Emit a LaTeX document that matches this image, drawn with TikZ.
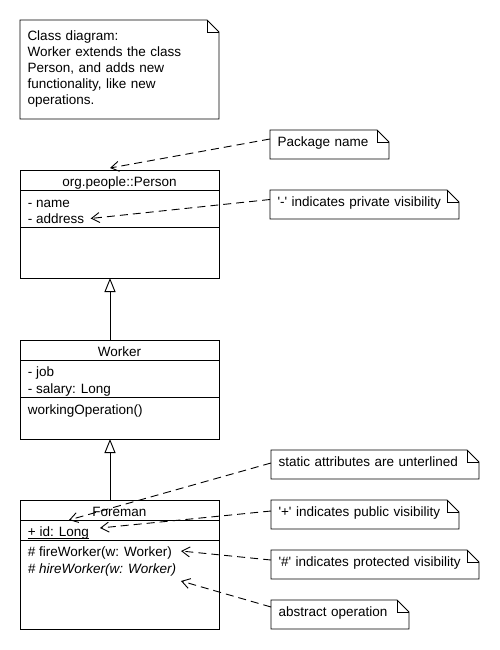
\documentclass[tikz,border=0pt]{standalone}
\usepackage{fontspec}
\setmainfont{Liberation Sans}[Ligatures=TeXOff]
\usetikzlibrary{arrows.meta}
\newcommand\notefold[1]{%
  \draw (#1.north west) -- ([xshift=-12pt]#1.north east) -- ([yshift=-12pt]#1.north east)
        -- (#1.south east) -- (#1.south west) -- cycle;
  \draw ([xshift=-12pt]#1.north east) -- ([xshift=-12pt,yshift=-12pt]#1.north east)
        -- ([yshift=-12pt]#1.north east);}
\begin{document}
\begin{tikzpicture}[x=1pt,y=-1pt, line width=0.9pt,
  font=\fontsize{13.5}{16}\selectfont,
  lbl/.style={inner sep=0pt, anchor=base west},
  ctr/.style={inner sep=0pt, anchor=base},
  part/.style={draw, inner sep=0pt, outer sep=0pt, minimum width=199pt, anchor=north west},
  note/.style={inner xsep=7.5pt, inner ysep=6.5pt, outer sep=0pt, anchor=north west,
               text height=10pt, text depth=6pt, align=left, text width=#1},
  ann/.style={dash pattern=on 8pt off 5pt, -{Straight Barb[length=8pt,width=10pt]}},
  gen/.style={-{Triangle[open,length=14pt,width=11pt]}}
]
\fill[white] (0,0) rectangle (500,650);
\useasboundingbox (0,0) rectangle (500,650);

% main note
\node[inner xsep=7.5pt, inner ysep=0pt, outer sep=0pt, anchor=north west,
      minimum height=99pt, minimum width=199pt, text width=184pt, align=left] (intro) at (20,20)
  {Class diagram:\\Worker extends the class\\Person, and adds new\\functionality, like new\\operations.};
\notefold{intro}

% Person
\node[part, minimum height=20.5pt] (personH) at (20,170) {};
\node[part, minimum height=36.5pt] (personA) at (personH.south west) {};
\node[part, minimum height=51pt] (personO) at (personA.south west) {};
\node[ctr] (personName) at (119.5,186.7) {org.people::Person};
\node[lbl] (pname) at (27.5,207.3) {- name};
\node[lbl] (paddr) at (27.5,223.3) {- address};

% Worker
\node[part, minimum height=20.7pt] (workerH) at (20,340) {};
\node[part, minimum height=36.3pt] (workerA) at (workerH.south west) {};
\node[part, minimum height=42pt] (workerO) at (workerA.south west) {};
\node[ctr] (workerName) at (119.5,356.7) {Worker};
\node[lbl] (wjob) at (27.5,376.7) {- job};
\node[lbl] (wsal) at (27.5,393.3) {- salary: Long};
\node[lbl] (wop) at (27.5,414.8) {workingOperation()};

% Foreman
\node[part, minimum height=20.7pt] (foreH) at (20,500) {};
\node[part, minimum height=20pt] (foreA) at (foreH.south west) {};
\node[part, minimum height=88.3pt] (foreO) at (foreA.south west) {};
\node[ctr] (foreName) at (119.5,516.7) {Foreman};
\node[lbl] (fid) at (27.5,536.2) {+ id: Long};
\draw[line width=0.8pt] ([yshift=-2.2pt]fid.base west) -- ([yshift=-2.2pt]fid.base east);
\node[lbl] (ffire) at (27.5,556.7) {\# fireWorker(w: Worker)};
\node[lbl] (fhire) at (27.5,573.3) {\itshape \# hireWorker(w: Worker)};

% generalizations
\draw[gen] ([xshift=-9.5pt]workerH.north) -- ([xshift=-9.5pt]personO.south);
\draw[gen] ([xshift=-9.5pt]foreH.north) -- ([xshift=-9.5pt]workerO.south);

% notes
\node[note=104pt] (pkg) at (270,130) {Package name};
\notefold{pkg}
\node[note=174pt] (priv) at (270,190) {'-' indicates private visibility};
\notefold{priv}
\node[note=193pt] (stat) at (271,450) {static attributes are unterlined};
\notefold{stat}
\node[note=173pt] (pub) at (271,500) {'+' indicates public visibility};
\notefold{pub}
\node[note=193pt] (prot) at (271,550) {'\#' indicates protected visibility};
\notefold{prot}
\node[note=123pt] (abs) at (271,600) {abstract operation};
\notefold{abs}

% annotation targets
\coordinate (tipPkg) at (110,168);
\coordinate (tipStat) at (69,520);
\coordinate (tipPub) at (100,528);
\coordinate (tipProt) at (181,551);
\coordinate (tipAbs) at (181,581);

\draw[ann] ([yshift=5.5pt]pkg.west) -- (tipPkg);
\draw[ann] ([yshift=5pt]priv.west) -- ([xshift=6pt]paddr.east);
\draw[ann] ([yshift=1.5pt]stat.west) -- (tipStat);
\draw[ann] ([yshift=3.5pt]pub.west) -- (tipPub);
\draw[ann] ([yshift=4.5pt]prot.west) -- (tipProt);
\draw[ann] ([yshift=7.5pt]abs.west) -- (tipAbs);
\end{tikzpicture}
\end{document}
